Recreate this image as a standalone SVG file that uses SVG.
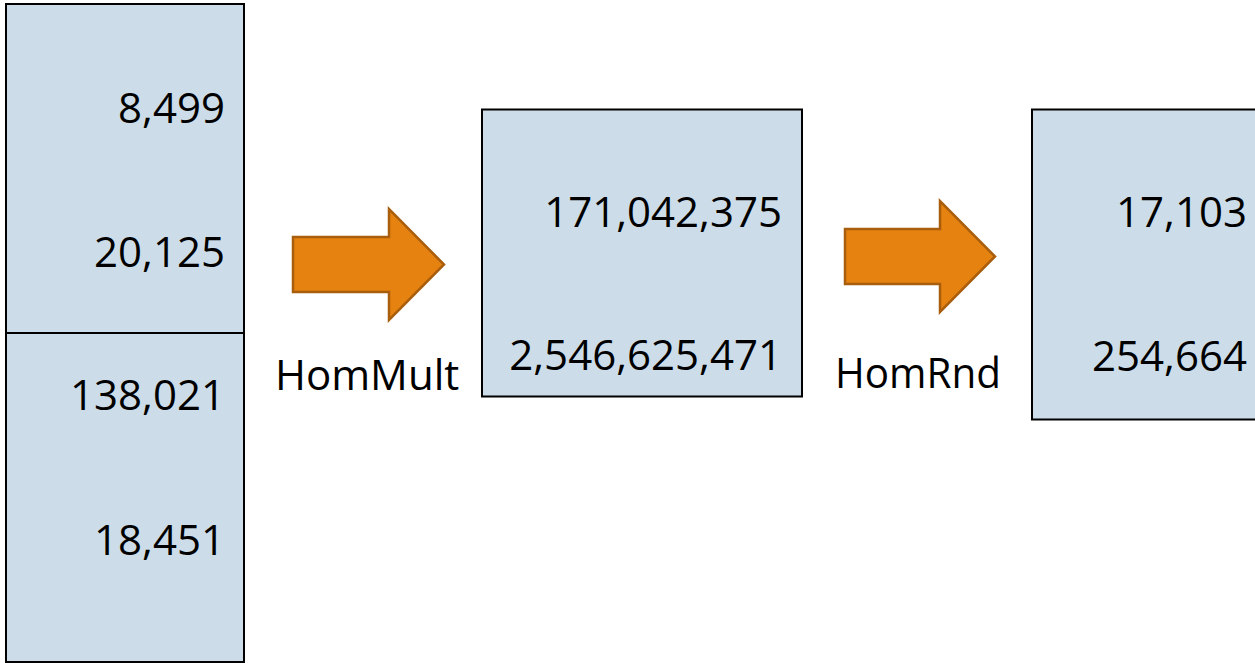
<svg xmlns="http://www.w3.org/2000/svg" width="1255" height="663" viewBox="0 0 1255 663">
<style>
.box{fill:#CCDDE9;stroke:#000;stroke-width:2}
.arrow{fill:#E6820F;stroke:#A85E0C;stroke-width:2.5;stroke-linejoin:miter}
text{font-family:"Open Sans","Noto Sans","Liberation Sans",sans-serif;font-size:42px;fill:#000}
.r{text-anchor:end}
</style>
<rect width="1255" height="663" fill="#fff"/>
<g id="input-top">
<rect class="box" x="6" y="4" width="238" height="329"/>
<text class="r" x="225" y="123">8,499</text>
<text class="r" x="225" y="267">20,125</text>
</g>
<g id="input-bottom">
<rect class="box" x="6" y="333" width="238" height="329"/>
<text class="r" x="225" y="410">138,021</text>
<text class="r" x="225" y="555">18,451</text>
</g>
<g id="product">
<rect class="box" x="482" y="109.5" width="320" height="287"/>
<text class="r" x="782" y="227">171,042,375</text>
<text class="r" x="782" y="370">2,546,625,471</text>
</g>
<g id="rounded">
<rect class="box" x="1032" y="109.5" width="240" height="310"/>
<text class="r" x="1247" y="227">17,103</text>
<text class="r" x="1247" y="371">254,664</text>
</g>
<g id="connectors">
<g id="hommult">
<polygon class="arrow" points="293,237 389,237 389,209 444,264.5 389,320 389,292 293,292"/>
<text x="275" y="390">HomMult</text>
</g>
<g id="homrnd">
<polygon class="arrow" points="845,229 940,229 940,201 995,256.5 940,312 940,284 845,284"/>
<text x="835" y="388" textLength="166" lengthAdjust="spacingAndGlyphs">HomRnd</text>
</g>
</g>
</svg>
